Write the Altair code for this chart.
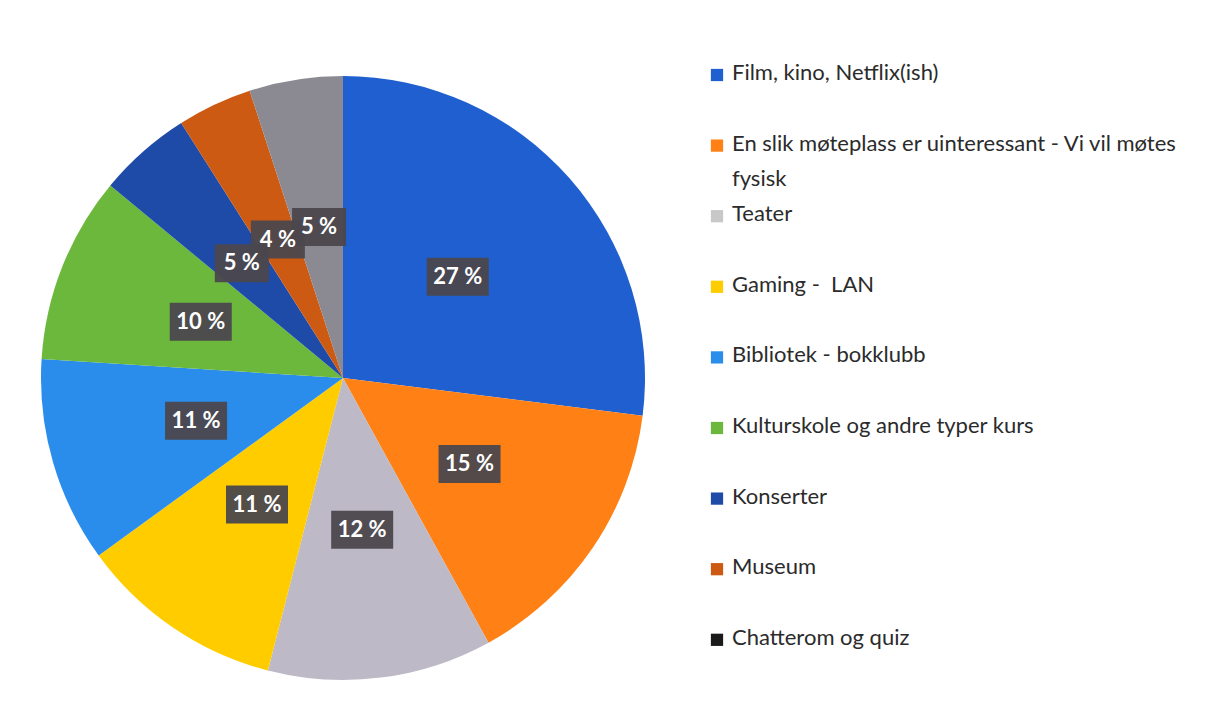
import altair as alt
import pandas as pd

categories = [
    "Film, kino, Netflix(ish)",
    "En slik møteplass er uinteressant - Vi vil møtes\nfysisk",
    "Teater",
    "Gaming - \u00a0LAN",
    "Bibliotek - bokklubb",
    "Kulturskole og andre typer kurs",
    "Konserter",
    "Museum",
    "Chatterom og quiz",
]
values = [27, 15, 12, 11, 11, 10, 5, 4, 5]
slice_colors = ["#1F5FD0", "#FF8015", "#BDB9C6", "#FFCC00", "#2A8DEB",
                "#6CB83C", "#1E4AA8", "#CC5A12", "#8B8A92"]
legend_colors = ["#1F5FD0", "#FF8015", "#C8C8C8", "#FFCC00", "#2A8DEB",
                 "#6CB83C", "#1E4AA8", "#CC5A12", "#1A1A1A"]

df = pd.DataFrame({
    "idx": list(range(len(categories))),
    "cat": categories,
    "value": values,
    "lcolor": legend_colors,
})

CX, CY, R, LR = 335, 370, 302, 153

base = alt.Chart(df)

pie = base.mark_arc(radius=R, stroke=None).encode(
    theta=alt.Theta("value:Q", stack=True),
    order=alt.Order("idx:Q"),
    color=alt.Color("cat:N", scale=alt.Scale(domain=categories, range=slice_colors),
                    sort=categories, legend=None),
    x=alt.value(CX),
    y=alt.value(CY),
)

lab = base.transform_joinaggregate(total="sum(value)").transform_window(
    cum="sum(value)", sort=[alt.SortField("idx")], frame=[None, 0]
).transform_calculate(
    mid="(datum.cum - datum.value/2)/datum.total*2*PI",
    lx=f"{CX} + {LR}*sin(datum.mid)",
    ly=f"{CY} - {LR}*cos(datum.mid)",
    txt="format(datum.value/datum.total*100, '.0f') + ' %'",
    bw="length(datum.txt)*8 + 30",
    x1="datum.lx - datum.bw/2",
    x2="datum.lx + datum.bw/2",
    y1="datum.ly - 19",
    y2="datum.ly + 19",
)

boxes = lab.mark_rect(color="#4B474D", opacity=0.95).encode(
    x=alt.X("x1:Q", scale=None), x2="x2:Q",
    y=alt.Y("y1:Q", scale=None), y2="y2:Q",
)
texts = lab.mark_text(font="Lato", fontSize=22, fontWeight="bold", color="white",
                      align="center", baseline="middle").encode(
    x=alt.X("lx:Q", scale=None), y=alt.Y("ly:Q", scale=None), text="txt:N",
)

leg = base.transform_calculate(ly="67 + 70.6*datum.idx")
leg_sq = leg.mark_square(size=150, opacity=1).encode(
    x=alt.value(709),
    y=alt.Y("ly:Q", scale=None),
    color=alt.Color("lcolor:N", scale=None),
)
leg_tx = leg.transform_calculate(ty="datum.ly - 12").mark_text(
    font="Lato", fontSize=22, color="#2B2B2B", align="left", baseline="top",
    lineBreak="\n", lineHeight=35,
).encode(
    x=alt.value(724),
    y=alt.Y("ty:Q", scale=None),
    text="cat:N",
)

chart = alt.layer(pie, boxes, texts, leg_sq, leg_tx).properties(
    width=1191, height=697,
    autosize=alt.AutoSizeParams(type="fit", contains="padding"),
    padding=0,
    background="white",
).configure_view(stroke=None)

chart.save("out.html", embed_options={"renderer": "svg", "actions": False})
